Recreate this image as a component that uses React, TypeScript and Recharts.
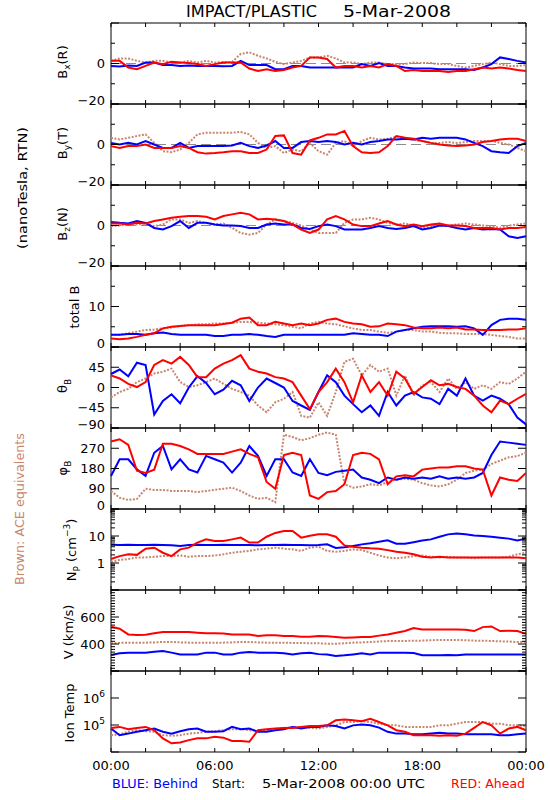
import React from "react";
import { LineChart, Line, XAxis, YAxis, ReferenceLine, ReferenceArea } from "recharts";

// time axis, hours since 5-Mar-2008 00:00 UTC
const HOURS = [0, 0.5, 1, 1.5, 2, 2.5, 3, 3.5, 4, 4.5, 5, 5.5, 6, 6.5, 7, 7.5, 8, 8.5, 9, 9.5, 10, 10.5, 11, 11.5, 12,
  12.5, 13, 13.5, 14, 14.5, 15, 15.5, 16, 16.5, 17, 17.5, 18, 18.5, 19, 19.5, 20, 20.5, 21, 21.5, 22, 22.5, 23, 23.5, 24];
const X_TICKS = [0, 2, 4, 6, 8, 10, 12, 14, 16, 18, 20, 22, 24];
const X_LABELS: Record<number, string> = { 0: "00:00", 6: "06:00", 12: "12:00", 18: "18:00", 24: "00:00" };

// Bx (R), nT
const BX_BEHIND = [-1.2, -1.5, -1.0, -1.2, 0.5, 0.5, -0.8, -0.8, -1.2, -1.0, -1.2, -1.2, -1.2, -1.4, -1.2, 1.3, -0.8, -0.8, -0.8, -2.8, -2.8, -1.2, -1.2, -2.0, -2.0,
  -2.0, -2.0, -2.0, -2.0, -0.3, -1.2, 0.2, -1.2, -1.2, -2.0, -2.5, -2.5, -2.5, -2.8, -2.8, -2.8, -2.8, -3.2, -2.0, -0.3, 3.0, 2.2, 1.3, 0.5];
const BX_AHEAD = [1.3, 1.3, -2.0, -2.8, -1.2, 0.5, -0.3, 0.8, 0.5, 0.2, -0.3, -1.2, -0.3, 0.5, 0.5, 0.5, -2.5, -3.7, -2.8, -3.7, -3.2, -2.0, -1.2, 3.0, 3.0,
  2.2, -2.0, -1.2, -1.2, -2.0, -1.2, -2.0, -0.3, -1.2, -3.7, -3.2, -3.7, -3.7, -3.7, -4.2, -3.7, -3.7, -2.8, -2.0, -2.5, -2.0, -2.5, -3.2, -3.7];
const BX_ACE = [1.3, 2.5, 2.5, 1.3, 0.5, 1.3, 1.3, 0.5, 0.5, 1.3, 0.5, 1.3, 0.5, 0.8, 0.8, 4.7, 5.5, 3.8, 2.5, 0.8, -0.3, 0.5, 1.3, 3.0, 3.0,
  3.8, 2.5, 0.5, 0.5, -0.3, 0.5, 0.5, -0.3, -0.3, -0.3, 0.5, 0.2, 0.2, -0.3, -0.3, -1.2, -2.0, -1.2, -0.3, 0.5, -0.3, -1.2, -1.2, -0.8];

// By (T), nT
const BY_BEHIND = [0.8, 0, 0.8, 0, 1.7, 0, -1.7, -1.7, 0.8, -1.7, -0.8, -0.8, -0.8, -0.8, -0.5, 0.8, -0.8, -1.7, -0.5, 1.7, -1.7, -1.7, 1.2, 1.7, 1.2,
  1.7, 1.2, 0, 0.8, 0, 1.2, 1.7, 2.5, 2.5, 2.8, 2.5, 3.3, 2.8, 3.3, 3.3, 3.3, 2.5, 0.8, -0.8, -3.3, -3.8, -4.2, -0.8, 0.8];
const BY_AHEAD = [-0.8, -1.7, -0.8, -0.8, 0, -1.7, -1.7, -1.7, -0.8, -1.7, -3.8, -4.5, -4.2, -3.8, -3.3, -3.3, -4.2, -4.2, -2.5, 4.2, 4.5, -4.2, -5.0, 2.0, 3.3,
  5.0, 5.0, 6.7, -0.8, -3.8, -4.2, -3.8, -0.8, 4.2, 3.3, 2.8, 1.7, 0.8, 0, -0.5, -0.8, -0.5, 0, 1.2, 1.7, 2.5, 2.8, 2.8, 1.7];
const BY_ACE = [3.3, 2.5, 3.3, 4.2, 5.0, 0.8, -3.3, -3.8, -2.5, 0.8, 5.0, 5.8, 5.8, 5.8, 5.8, 6.2, 5.0, 0.8, -1.7, -0.8, -4.2, -2.5, -3.3, 0.8, -3.3,
  -5.0, 0.8, 1.7, -0.8, 1.7, 3.3, 2.5, 2.8, 3.8, 3.3, 2.2, 1.7, 0.8, 0.8, 1.2, 0.8, 1.2, 1.7, 1.7, 1.7, 0.8, 0, -1.7, -3.3];

// Bz (N), nT
const BZ_BEHIND = [1.7, 1.3, 1.0, 2.2, 1.3, -1.2, -2.0, -0.3, 2.2, -1.2, 1.3, 1.3, 0.5, 0, 0, -0.3, -1.2, -1.2, 0.5, 1.0, 0.5, 0.5, -1.2, -1.7, -0.3,
  0.5, -0.3, -2.0, -2.0, -2.0, -1.2, -0.3, -1.2, -1.7, -1.2, -0.3, -2.0, -1.2, 0, -0.3, -1.2, -2.0, -1.2, -2.0, -1.7, -2.0, -5.3, -6.2, -5.3];
const BZ_AHEAD = [1.0, 1.0, 0.5, 1.3, 1.0, 2.2, 3.0, 3.8, 4.3, 4.7, 4.7, 4.3, 3.0, 4.7, 5.5, 6.3, 5.5, 3.0, 3.3, 3.0, 2.2, 0.5, -2.0, -3.7, -2.0,
  3.0, 4.7, 3.0, 0.5, -0.3, -0.3, 1.0, 2.2, 0.5, -0.3, 0.5, -0.3, 0.5, 1.0, 0, 0, -0.3, -1.2, -1.2, -1.2, -2.0, -1.2, -1.2, -0.7];
const BZ_ACE = [-0.3, 0, 0.5, 0.5, 1.0, -0.3, 0.5, 3.0, 3.0, 1.3, 2.2, 1.3, 0.5, 1.0, -1.2, -3.7, -4.5, -3.7, 0.5, 3.0, 2.2, 1.3, 0, -2.0, -3.7,
  -3.7, -3.7, 1.3, 3.0, 3.0, 3.8, 3.0, 1.3, 0.5, 1.0, 0, -1.2, -0.3, 0.5, 0, 0.5, 1.0, 0.5, 0, -0.3, -1.2, 0, 0.5, 1.0];

// |B|, nT
const BT_BEHIND = [3.0, 3.0, 3.2, 3.2, 3.0, 3.4, 3.6, 3.2, 3.0, 3.0, 3.0, 3.0, 2.7, 2.7, 3.0, 3.0, 3.2, 3.0, 2.7, 2.5, 3.0, 3.0, 3.0, 3.0, 3.0,
  3.0, 3.0, 3.0, 3.4, 3.2, 3.0, 3.0, 2.7, 3.8, 4.2, 4.6, 5.0, 5.1, 5.1, 5.1, 5.0, 5.1, 4.6, 3.0, 5.4, 6.7, 7.0, 7.0, 6.7];
const BT_AHEAD = [2.1, 1.9, 2.1, 2.5, 3.0, 3.4, 4.6, 5.0, 5.2, 5.4, 5.4, 5.4, 5.4, 5.7, 6.0, 7.0, 7.3, 5.4, 5.4, 6.2, 5.8, 5.4, 5.8, 5.4, 5.8,
  6.7, 7.0, 6.2, 5.8, 5.6, 5.0, 5.1, 5.8, 5.6, 5.4, 4.8, 4.6, 4.6, 4.8, 4.6, 4.8, 4.3, 4.3, 4.2, 4.2, 4.2, 4.3, 4.3, 4.6];
const BT_ACE = [3.0, 3.0, 3.4, 3.8, 4.2, 4.3, 4.6, 4.8, 5.2, 5.4, 5.6, 5.6, 5.8, 5.8, 6.0, 6.2, 6.2, 6.0, 5.8, 5.6, 5.4, 5.0, 4.6, 5.8, 6.2,
  5.8, 5.6, 5.1, 4.6, 4.2, 4.2, 3.8, 3.5, 3.8, 4.2, 4.2, 3.8, 3.8, 3.5, 3.4, 3.4, 3.2, 3.2, 3.2, 3.0, 2.7, 2.5, 2.1, 2.1];

// theta B, degrees
const TH_BEHIND = [30, 40, 25, 55, 50, -60, -30, -15, -35, 0, 25, 10, -15, -5, 15, 5, -30, 0, 20, 10, 0, -30, -40, -50, -10,
  27, 12, -18, -37, -55, -40, -63, -10, -40, -18, -10, -22, -25, -37, -3, -18, 20, -18, -29, -18, -25, -37, -67, -82];
const TH_AHEAD = [27, 20, 8, 1, 12, 50, 61, 53, 68, 50, 23, 23, 42, 53, 61, 72, 42, 35, 31, 23, 20, 12, -18, -48, -10,
  12, 42, 12, -33, 27, -10, 12, -18, 35, 20, -14, 1, 16, 5, 8, 1, -3, -18, -40, -55, -29, -37, -25, -14];
const TH_ACE = [-22, -10, -3, 12, 20, 31, 35, 42, 12, 1, 5, 12, 20, 8, -3, -10, -18, -40, -55, -33, -25, -10, -63, -67, -33,
  -63, -10, 57, 64, 27, 50, 35, 42, -18, 27, -18, 5, 12, -10, 20, -3, 12, -3, 5, -3, 12, 8, 20, 35];

// phi B, degrees
const PH_BEHIND = [147, 221, 221, 176, 147, 250, 280, 176, 221, 176, 162, 236, 221, 206, 162, 206, 280, 236, 147, 221, 221, 162, 147, 221, 160,
  150, 165, 170, 175, 140, 130, 115, 140, 130, 140, 135, 140, 135, 145, 135, 140, 135, 140, 160, 240, 300, 295, 290, 285];
const PH_AHEAD = [300, 310, 285, 170, 160, 175, 290, 290, 280, 265, 245, 245, 245, 245, 255, 265, 245, 230, 120, 90, 240, 250, 240, 60, 45,
  75, 80, 110, 240, 250, 245, 220, 110, 145, 150, 145, 175, 180, 185, 185, 190, 190, 180, 175, 60, 140, 130, 125, 160];
const PH_ACE = [80, 50, 40, 45, 90, 85, 85, 80, 80, 80, 75, 80, 85, 90, 95, 80, 60, 45, 50, 30, 330, 320, 305, 315, 330,
  340, 330, 110, 95, 100, 110, 105, 120, 130, 135, 130, 115, 105, 100, 110, 130, 160, 170, 175, 200, 215, 230, 235, 250];

// proton density, cm^-3
const NP_BEHIND = [4.7, 4.6, 4.7, 4.6, 4.6, 4.7, 4.6, 4.5, 4.3, 4.6, 4.7, 4.6, 4.6, 4.7, 4.6, 4.6, 4.6, 4.5, 4.6, 4.6, 4.7, 4.6, 4.6, 4.5, 4.6,
  4.9, 3.6, 3.8, 4.3, 4.9, 5.4, 6.1, 6.9, 5.2, 5.2, 5.9, 6.8, 7.5, 9.4, 11.5, 12.5, 11.5, 10.5, 10.0, 9.4, 8.7, 8.0, 6.8, 8.0];
const NP_AHEAD = [1.4, 1.8, 2.1, 2.0, 3.4, 3.7, 2.4, 1.8, 3.2, 3.7, 5.7, 7.5, 6.5, 6.5, 7.5, 8.7, 5.7, 5.7, 9.4, 13.0, 15.3, 15.3, 8.7, 10.3, 11.5,
  11.5, 9.4, 4.5, 4.0, 3.7, 3.5, 3.4, 3.0, 2.6, 2.4, 2.1, 1.7, 1.6, 1.7, 1.6, 1.6, 1.6, 1.6, 1.6, 1.6, 1.6, 1.6, 1.6, 1.5];
const NP_ACE = [1.1, 1.3, 1.4, 1.6, 1.6, 1.7, 1.8, 1.8, 1.9, 1.7, 1.8, 1.8, 1.9, 2.1, 2.4, 2.6, 2.8, 3.2, 3.4, 3.7, 3.4, 3.2, 2.8, 3.7, 4.0,
  2.8, 2.6, 2.8, 3.2, 3.0, 2.4, 1.9, 1.6, 1.5, 1.6, 1.8, 1.9, 1.7, 1.6, 1.7, 1.6, 1.6, 1.5, 1.6, 1.6, 1.6, 1.7, 2.1, 2.4];

// bulk speed, km/s
const V_BEHIND = [318, 331, 336, 336, 336, 343, 348, 336, 323, 323, 323, 336, 336, 323, 323, 336, 341, 336, 336, 336, 331, 323, 331, 336, 325,
  323, 311, 316, 323, 331, 323, 336, 336, 336, 336, 333, 316, 316, 316, 318, 316, 323, 323, 323, 323, 323, 323, 323, 323];
const V_AHEAD = [528, 513, 471, 466, 469, 479, 489, 489, 489, 489, 484, 479, 479, 477, 471, 471, 471, 459, 464, 464, 459, 459, 454, 454, 459,
  457, 452, 447, 449, 452, 452, 462, 471, 484, 496, 518, 508, 508, 508, 508, 508, 506, 496, 525, 530, 496, 499, 496, 475];
const V_ACE = [405, 408, 410, 410, 410, 412, 415, 415, 412, 410, 410, 410, 410, 410, 412, 415, 415, 412, 410, 410, 410, 408, 408, 405, 405,
  402, 402, 405, 410, 412, 415, 418, 422, 422, 422, 425, 425, 428, 430, 430, 430, 428, 425, 425, 422, 420, 418, 415, 415];

// ion temperature, K
const T_BEHIND = [74000, 42000, 48000, 56000, 64000, 74000, 56000, 48000, 59000, 70000, 74000, 56000, 56000, 59000, 85000, 70000, 74000, 56000, 56000, 64000, 70000, 85000, 74000, 85000, 85000,
  97000, 92000, 74000, 97000, 105000, 97000, 80000, 56000, 48000, 48000, 45000, 45000, 48000, 52000, 48000, 48000, 45000, 45000, 45000, 45000, 42000, 42000, 45000, 48000];
const T_AHEAD = [78000, 85000, 70000, 78000, 85000, 64000, 32000, 21000, 22500, 27500, 32000, 32000, 36500, 34000, 25500, 25500, 24000, 64000, 70000, 74000, 78000, 78000, 85000, 92000, 92000,
  97500, 149000, 160000, 149000, 137000, 171000, 129000, 97500, 64000, 56000, 42000, 42000, 42000, 40000, 42000, 40000, 48000, 78000, 129000, 97500, 48000, 74000, 85000, 64000];
const T_ACE = [42000, 45000, 56000, 64000, 59000, 56000, 42000, 40000, 42000, 48000, 51000, 56000, 59000, 64000, 70000, 70000, 64000, 59000, 64000, 70000, 78000, 85000, 85000, 78000, 74000,
  85000, 97500, 129000, 129000, 137000, 129000, 112000, 97500, 97500, 85000, 85000, 85000, 85000, 97500, 97500, 112000, 129000, 129000, 129000, 112000, 112000, 97500, 97500, 92000];

// y tick values per panel
const B_TICKS = [-20, -10, 0, 10, 20];
const BT_TICKS = [0, 5, 10, 15, 20];
const TH_TICKS = [-90, -45, 0, 45, 90];
const PH_TICKS = [0, 90, 180, 270, 360];
const NP_TICKS = [0.1, 0.2, 0.3, 0.4, 0.5, 0.6, 0.7, 0.8, 0.9, 1, 2, 3, 4, 5, 6, 7, 8, 9, 10, 20, 30, 40, 50, 60, 70, 80, 90, 100];
const V_TICKS = [200, 220, 240, 260, 280, 300, 320, 340, 360, 380, 400, 420, 440, 460, 480, 500, 520, 540, 560, 580, 600,
  620, 640, 660, 680, 700, 720, 740, 760, 780, 800];
const T_TICKS = [1e4, 1e5, 1e6, 1e7];

const FONT = "'DejaVu Sans', sans-serif";
const BLUE = "#0000ff";
const RED = "#ff0000";
const BROWN = "#c8866e";
const PLOT_LEFT = 111;
const PLOT_W = 415;
const PANEL_H = 81;
const TOP0 = 23;

const sup = (base: string, exp: string) => (
  <>
    {base}
    <tspan dy={-6} fontSize={9}>{exp}</tspan>
  </>
);

type PanelDef = {
  behind: number[];
  ahead: number[];
  ace: number[];
  domain: [number, number];
  log?: boolean;
  ticks: number[];
  major: number[];
  labels: [number, React.ReactNode][];
  zeroLine?: boolean;
};

const PANELS: PanelDef[] = [
  { behind: BX_BEHIND, ahead: BX_AHEAD, ace: BX_ACE, domain: [-20, 20], ticks: B_TICKS, major: [-20, 0, 20], labels: [[0, "0"], [-20, "\u221220"]], zeroLine: true },
  { behind: BY_BEHIND, ahead: BY_AHEAD, ace: BY_ACE, domain: [-20, 20], ticks: B_TICKS, major: [-20, 0, 20], labels: [[0, "0"], [-20, "\u221220"]], zeroLine: true },
  { behind: BZ_BEHIND, ahead: BZ_AHEAD, ace: BZ_ACE, domain: [-20, 20], ticks: B_TICKS, major: [-20, 0, 20], labels: [[0, "0"], [-20, "\u221220"]], zeroLine: true },
  { behind: BT_BEHIND, ahead: BT_AHEAD, ace: BT_ACE, domain: [0, 20], ticks: BT_TICKS, major: [0, 10, 20], labels: [[0, "0"], [10, "10"]] },
  { behind: TH_BEHIND, ahead: TH_AHEAD, ace: TH_ACE, domain: [-90, 90], ticks: TH_TICKS, major: TH_TICKS, labels: [[45, "45"], [0, "0"], [-45, "\u221245"], [-90, "\u221290"]] },
  { behind: PH_BEHIND, ahead: PH_AHEAD, ace: PH_ACE, domain: [0, 360], ticks: PH_TICKS, major: PH_TICKS, labels: [[270, "270"], [180, "180"], [90, "90"], [0, "0"]] },
  { behind: NP_BEHIND, ahead: NP_AHEAD, ace: NP_ACE, domain: [0.1, 100], log: true, ticks: NP_TICKS, major: [0.1, 1, 10, 100], labels: [[10, "10"], [1, "1"]] },
  { behind: V_BEHIND, ahead: V_AHEAD, ace: V_ACE, domain: [200, 800], ticks: V_TICKS, major: [200, 400, 600, 800], labels: [[600, "600"], [400, "400"]] },
  { behind: T_BEHIND, ahead: T_AHEAD, ace: T_ACE, domain: [1e4, 1e7], log: true, ticks: T_TICKS, major: T_TICKS, labels: [[1e6, sup("10", "6")], [1e5, sup("10", "5")]] },
];

function Panel({ def, index }: { def: PanelDef; index: number }) {
  const last = index === PANELS.length - 1;
  const padTop = 8;
  const padBottom = last ? 30 : 8;
  const top = TOP0 + index * PANEL_H;
  const data = HOURS.map((h, i) => ({ h, behind: def.behind[i], ahead: def.ahead[i], ace: def.ace[i] }));

  // axes are 1px wide/tall (zero-sized axes are not rendered); tick coords sit on the plot edge
  const yTick = (p: any) => {
    const v = p.payload.value;
    const isMajor = def.major.some((m) => Math.abs(m - v) < 1e-9);
    const len = isMajor ? 8 : 4;
    const lab = def.labels.find(([k]) => Math.abs(k - v) < 1e-9);
    const shift = Math.abs(v - def.domain[0]) < 1e-9 ? -4 : 0;
    return (
      <g>
        <line x1={p.x} y1={p.y} x2={p.x + len} y2={p.y} stroke="#000" />
        <line x1={p.x + PLOT_W} y1={p.y} x2={p.x + PLOT_W - len} y2={p.y} stroke="#000" />
        {lab && (
          <text x={p.x - 6} y={p.y + 4.5 + shift} textAnchor="end" fontSize={13} fontFamily={FONT} fill="#000">
            {lab[1]}
          </text>
        )}
      </g>
    );
  };

  const xTick = (p: any) => {
    const v = p.payload.value;
    return (
      <g>
        <line x1={p.x} y1={p.y} x2={p.x} y2={p.y - 4} stroke="#000" />
        <line x1={p.x} y1={p.y - PANEL_H} x2={p.x} y2={p.y - PANEL_H + 4} stroke="#000" />
        {last && X_LABELS[v] && (
          <text x={p.x} y={p.y + 18} textAnchor="middle" fontSize={13} fontFamily={FONT} fill="#000">
            {X_LABELS[v]}
          </text>
        )}
      </g>
    );
  };

  return (
    <div style={{ position: "absolute", left: 0, top: top - padTop }}>
      <LineChart
        width={550}
        height={PANEL_H + padTop + padBottom}
        data={data}
        margin={{ top: padTop, right: 550 - PLOT_LEFT - PLOT_W, bottom: padBottom - 1, left: PLOT_LEFT - 1 }}
      >
        <XAxis dataKey="h" type="number" domain={[0, 24]} ticks={X_TICKS} interval={0} height={1}
          tickSize={0} tickMargin={0} axisLine={false} tickLine={false} tick={xTick} />
        <YAxis type="number" scale={def.log ? "log" : "linear"} domain={def.domain} allowDataOverflow
          ticks={def.ticks} interval={0} width={1} tickSize={0} tickMargin={0} axisLine={false} tickLine={false} tick={yTick} />
        {def.zeroLine && <ReferenceLine y={0} stroke="#8c8c8c" strokeDasharray="10 5" />}
        <Line type="linear" dataKey="ace" stroke={BROWN} strokeWidth={2} strokeDasharray="2 1.5" dot={false} isAnimationActive={false} />
        <Line type="linear" dataKey="behind" stroke={BLUE} strokeWidth={2} dot={false} isAnimationActive={false} />
        <Line type="linear" dataKey="ahead" stroke={RED} strokeWidth={2} dot={false} isAnimationActive={false} />
        <ReferenceArea x1={0} x2={24} y1={def.domain[0]} y2={def.domain[1]} fill="none" fillOpacity={0} stroke="#000" strokeWidth={1} ifOverflow="visible" />
      </LineChart>
    </div>
  );
}

function VText({ x, y, children, fill = "#000", len }: { x: number; y: number; children: React.ReactNode; fill?: string; len?: number }) {
  return (
    <text transform={`translate(${x},${y}) rotate(-90)`} textAnchor="middle" fontSize={13} fontFamily={FONT} fill={fill}
      textLength={len} lengthAdjust={len ? "spacingAndGlyphs" : undefined}>
      {children}
    </text>
  );
}

export default function App() {
  return (
    <div style={{ position: "absolute", left: 0, top: 0, width: 550, height: 800, background: "#fff" }}>
      <svg width={550} height={800} style={{ position: "absolute", left: 0, top: 0 }}>
        <text x={186} y={17} fontSize={15} fontFamily={FONT} textLength={131} lengthAdjust="spacingAndGlyphs">IMPACT/PLASTIC</text>
        <text x={343} y={17} fontSize={15} fontFamily={FONT} textLength={108} lengthAdjust="spacingAndGlyphs">5-Mar-2008</text>

        <VText x={27} y={188} len={122}>(nanoTesla, RTN)</VText>
        <VText x={24} y={509} fill={BROWN} len={152}>Brown: ACE equivalents</VText>

        <VText x={67} y={62}>B<tspan dy={3} fontSize={9}>x</tspan><tspan dy={-3}>(R)</tspan></VText>
        <VText x={67} y={143}>B<tspan dy={3} fontSize={9}>y</tspan><tspan dy={-3}>(T)</tspan></VText>
        <VText x={67} y={224}>B<tspan dy={3} fontSize={9}>z</tspan><tspan dy={-3}>(N)</tspan></VText>
        <VText x={79} y={307}>total B</VText>
        <VText x={67} y={386}>θ<tspan dy={4} fontSize={9}>B</tspan></VText>
        <VText x={67} y={468}>φ<tspan dy={4} fontSize={9}>B</tspan></VText>
        <VText x={76} y={550}>N<tspan dy={4} fontSize={9}>P</tspan><tspan dy={-4}> (cm</tspan><tspan dy={-6} fontSize={9}>−3</tspan><tspan dy={6}>)</tspan></VText>
        <VText x={73} y={632}>V (km/s)</VText>
        <VText x={74} y={713}>Ion Temp</VText>

        <text x={112} y={788} fontSize={13} fontFamily={FONT} fill={BLUE} textLength={86} lengthAdjust="spacingAndGlyphs">BLUE: Behind</text>
        <text x={212} y={788} fontSize={13} fontFamily={FONT} textLength={33} lengthAdjust="spacingAndGlyphs">Start:</text>
        <text x={262} y={788} fontSize={13} fontFamily={FONT} textLength={163} lengthAdjust="spacingAndGlyphs">5-Mar-2008 00:00 UTC</text>
        <text x={451} y={788} fontSize={13} fontFamily={FONT} fill={RED} textLength={74} lengthAdjust="spacingAndGlyphs">RED: Ahead</text>
      </svg>
      {PANELS.map((def, i) => (
        <Panel key={i} def={def} index={i} />
      ))}
    </div>
  );
}
